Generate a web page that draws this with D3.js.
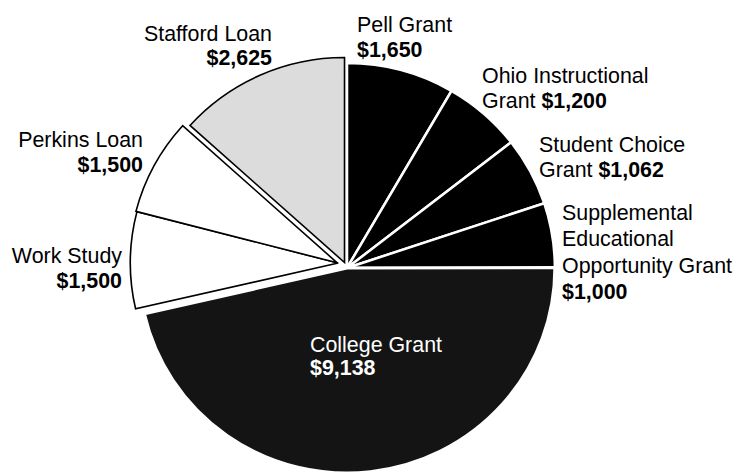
<!DOCTYPE html>
<html>
<head>
<meta charset="utf-8">
<script src="https://cdn.jsdelivr.net/npm/d3@7"></script>
<style>
  html, body { margin: 0; padding: 0; background: #fff; }
  svg { display: block; }
  text { font-family: "Liberation Sans", Arial, Helvetica, sans-serif; }
</style>
</head>
<body>
<div id="chart"></div>
<script>
// ---- data ----
const categories = [
  "Pell Grant",
  "Ohio Instructional Grant",
  "Student Choice Grant",
  "Supplemental Educational Opportunity Grant",
  "College Grant",
  "Work Study",
  "Perkins Loan",
  "Stafford Loan"
];
const values = [1650, 1200, 1062, 1000, 9138, 1500, 1500, 2625];
// label text lines (the amount is appended in bold from values)
const labelLines = [
  ["Pell Grant", ""],
  ["Ohio Instructional", "Grant "],
  ["Student Choice", "Grant "],
  ["Supplemental", "Educational", "Opportunity Grant", ""],
  ["College Grant", ""],
  ["Work Study", ""],
  ["Perkins Loan", ""],
  ["Stafford Loan", ""]
];

// ---- styling / layout ----
const W = 739, H = 474;
const cx = 347, cy = 268, R = 205, sx = 1.014;
const fills   = ["#000", "#000", "#000", "#000", "#141414", "#fff", "#fff", "#dcdcdc"];
const strokes = ["#fff", "#fff", "#fff", "#fff", "#fff", "#000", "#000", "#000"];
const strokeW = [2.5, 2.5, 2.5, 2.5, 3, 1.6, 1.6, 1.6];
const explode = [0, 0, 0, 0, 0, 10, 11, 6];
const explodeTilt = [0, 0, 0, 0, 0, 29, 0, 0]; // degrees added to the explode direction
// label anchors: [x, first baseline, anchor, line height, color]
const labelPos = [
  [357, 32, "start", 25, "#000"],
  [482, 83, "start", 25, "#000"],
  [539, 152, "start", 25, "#000"],
  [562, 220, "start", 26.3, "#000"],
  [310, 352, "start", 23, "#fff"],
  [122, 263, "end", 25, "#000"],
  [143, 147, "end", 25, "#000"],
  [272, 41, "end", 23.5, "#000"]
];
const fontSize = 21.4;

const svg = d3.select("#chart").append("svg")
  .attr("width", W).attr("height", H)
  .attr("viewBox", `0 0 ${W} ${H}`);

const pie = d3.pie().sort(null).value(d => d)
  .startAngle(0).endAngle(2 * Math.PI);
const arcs = pie(values);
const arc = d3.arc().innerRadius(0).outerRadius(R);

const g = svg.append("g")
  .attr("transform", `translate(${cx},${cy}) scale(${sx},1)`);

g.selectAll("path.slice")
  .data(arcs)
  .join("path")
  .attr("class", "slice")
  .attr("d", arc)
  .attr("transform", (d, i) => {
    const mid = (d.startAngle + d.endAngle) / 2 + explodeTilt[i] * Math.PI / 180;
    const e = explode[i];
    return `translate(${e * Math.sin(mid)},${-e * Math.cos(mid)})`;
  })
  .attr("fill", (d, i) => fills[i])
  .attr("stroke", (d, i) => strokes[i])
  .attr("stroke-width", (d, i) => strokeW[i])
  .attr("stroke-linejoin", "miter");

const fmt = d3.format("$,");

const labels = svg.append("g").selectAll("text.label")
  .data(arcs)
  .join("text")
  .attr("class", "label")
  .attr("font-size", fontSize)
  .attr("text-anchor", (d, i) => labelPos[i][2])
  .attr("fill", (d, i) => labelPos[i][4]);

labels.each(function(d, i) {
  const t = d3.select(this);
  const [x, y0, , lh] = labelPos[i];
  const lines = labelLines[i];
  lines.forEach((ln, k) => {
    const isLast = k === lines.length - 1;
    const tl = t.append("tspan").attr("x", x).attr("y", y0 + k * lh);
    if (isLast) {
      if (ln) tl.append("tspan").text(ln);
      tl.append("tspan").attr("font-weight", "bold").text(fmt(d.data));
    } else {
      tl.text(ln);
    }
  });
});
</script>
</body>
</html>
